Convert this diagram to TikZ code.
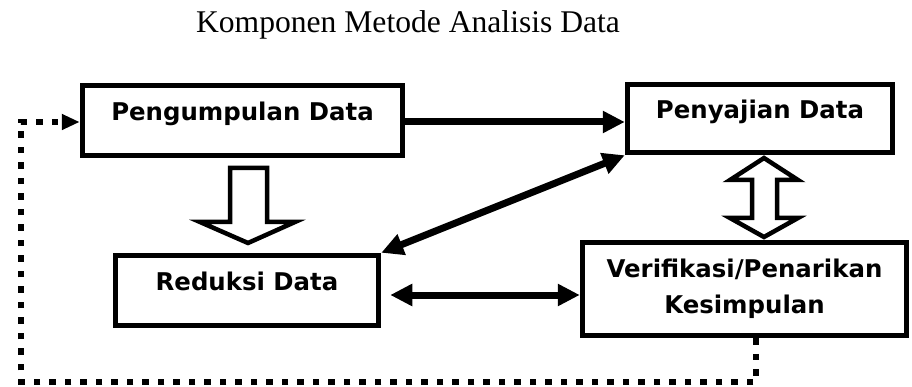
\documentclass[tikz,border=0pt]{standalone}
\usepackage{fontspec}
\setmainfont{Liberation Serif}
\newfontfamily\boxfont{DejaVu Sans}
\usetikzlibrary{arrows.meta}
\begin{document}
\begin{tikzpicture}[x=1pt,y=-1pt,
  box/.style={draw, line width=5.5pt, rectangle, inner sep=0pt,
    font=\boxfont\bfseries\fontsize{24.4}{36}\selectfont,
    text height=18pt, text depth=18pt},
  box2/.style={draw, line width=5.5pt, rectangle, inner sep=0pt, align=center,
    font=\boxfont\bfseries\fontsize{24.4}{36}\selectfont},
  conn/.style={line width=7pt, -{Triangle[length=22pt,width=21pt]}},
  dconn/.style={line width=7pt, {Triangle[length=22pt,width=21pt]}-{Triangle[length=22pt,width=21pt]}},
  dotconn/.style={line width=6.5pt, dash pattern=on 6.5pt off 9pt, -{Triangle[length=18pt,width=15pt]}},
  hollow/.style={draw, line width=4.5pt, fill=white, line join=miter}
]
\useasboundingbox (0,0) rectangle (912,387);

\node[font=\fontsize{31.6}{36}\selectfont, anchor=base] (title) at (408,33) {Komponen Metode Analisis Data};

\node[box, minimum width=320pt, minimum height=70pt] (pd) at (242.5,120.5) {Pengumpulan Data};
\node[box, minimum width=265pt, minimum height=68pt] (py) at (760,118.5) {Penyajian Data};
\node[box, minimum width=263pt, minimum height=70pt] (rd) at (247,290.5) {Reduksi Data};
\node[box2, minimum width=324pt, minimum height=93pt] (vk) at (744.5,289) {Verifikasi/Penarikan\\Kesimpulan};

% connectors
\draw[conn] ([yshift=-1.5pt]pd.east) -- ([yshift=-1.5pt]pd.east -| py.west);
\draw[dconn] (py.south west) -- (rd.north east);
\draw[dconn, shorten <=9pt] ([yshift=-4.5pt]rd.east) -- ([yshift=-4.5pt]rd.east -| vk.west);

% feedback dotted loop
\coordinate (vkout) at ([xshift=11.5pt]vk.south);
\coordinate (loopBL) at (21,382);
\coordinate (loopTL) at (21,122);
\draw[dotconn] (vkout) -- (vkout |- loopBL) -- (loopBL) -- (loopTL) -- (loopTL -| pd.west);

% hollow arrows
\draw[hollow] (230,168) -- (267,168) -- (267,222) -- (295,222) -- (248,243) -- (200,222) -- (230,222) -- cycle;
\draw[hollow] (764,158) -- (798,180) -- (777,180) -- (777,218) -- (798,218) -- (764,237) -- (730,218) -- (752,218) -- (752,180) -- (730,180) -- cycle;
\end{tikzpicture}
\end{document}
